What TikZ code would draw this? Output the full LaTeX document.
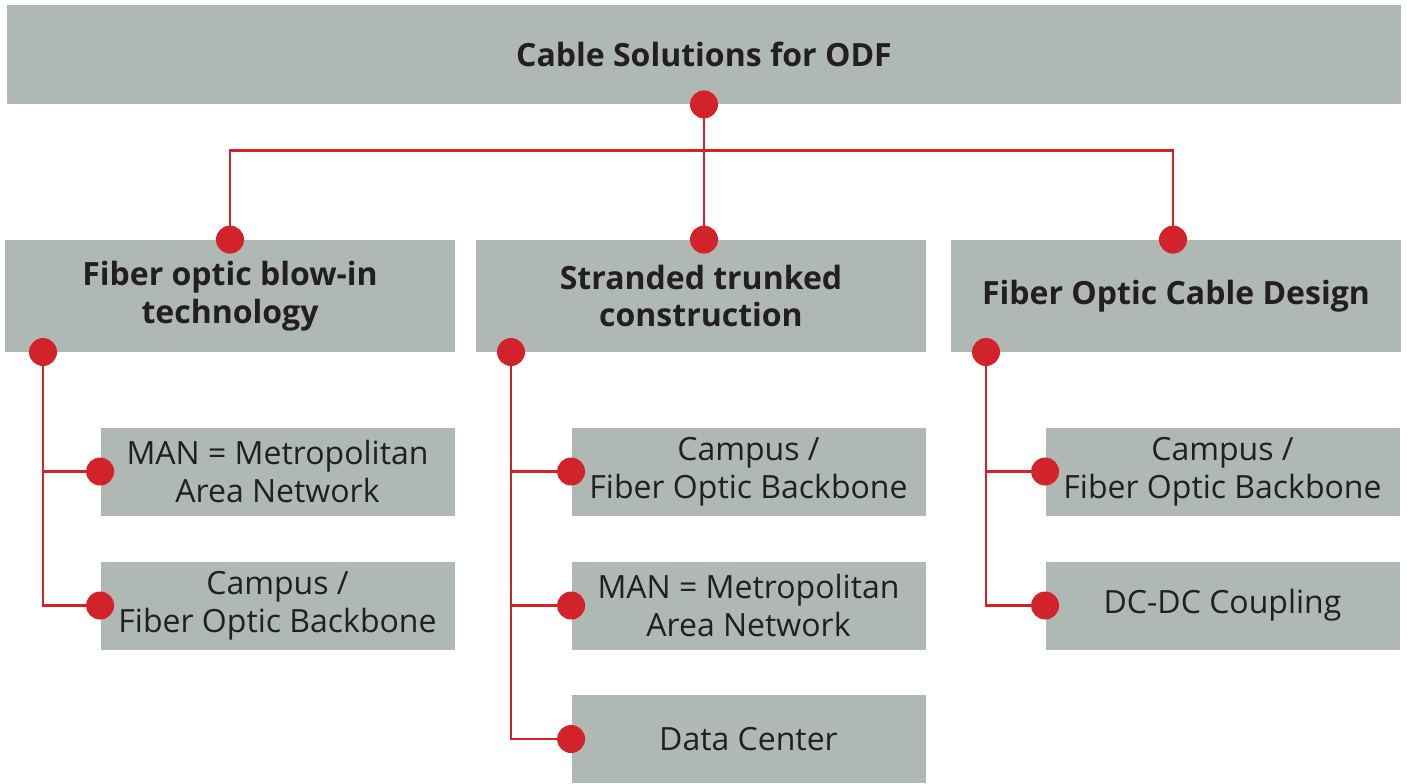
\documentclass[tikz,border=0pt]{standalone}
\usepackage{fontspec}
\setmainfont{Open Sans}
\definecolor{boxgray}{HTML}{AFB8B3}
\definecolor{odfred}{HTML}{D2232A}
\definecolor{ink}{HTML}{231F20}

\begin{document}
\begin{tikzpicture}[x=0.5pt, y=-0.5pt,
	box/.style={fill=boxgray, text=ink, inner sep=0pt, align=center,
		font=\fontsize{16}{18.75}\selectfont},
	head/.style={box, font=\fontsize{16}{18.75}\selectfont\bfseries},
	mid/.style={head, minimum width=225pt, minimum height=56pt},
	leaf/.style={box, minimum width=177pt, minimum height=44pt},
	link/.style={draw=odfred, line width=1.25pt}]

	\useasboundingbox (0,0) rectangle (1407,783);

	\node[head, minimum width=697pt, minimum height=49.5pt] (top) at (704,54.5)
		{Cable Solutions for ODF};

	\node[mid] (b1) at (230,296) {Fiber optic blow-in\\technology};
	\node[mid] (b2) at (701,296) {Stranded trunked\\construction};
	\node[mid] (b3) at (1176,296) {Fiber Optic Cable Design};

	\node[leaf] (c11) at (277.5,471.5) {MAN = Metropolitan\\Area Network};
	\node[leaf] (c12) at (277.5,605.5) {Campus /\\Fiber Optic Backbone};

	\node[leaf] (c21) at (748.5,471.5) {Campus /\\Fiber Optic Backbone};
	\node[leaf] (c22) at (748.5,605.5) {MAN = Metropolitan\\Area Network};
	\node[leaf] (c23) at (748.5,739) {Data Center};

	\node[leaf] (c31) at (1222.5,471.5) {Campus /\\Fiber Optic Backbone};
	\node[leaf] (c32) at (1222.5,605.5) {DC-DC Coupling};

	\coordinate (d1) at (b1.north);
	\coordinate (d2) at (top.south |- b2.north);
	\coordinate (d3) at ([xshift=-1.5pt]b3.north);
	\coordinate (t1) at (43,352);
	\coordinate (t2) at (511,352);
	\coordinate (t3) at (986,352);

	\draw[link] (top.south) -- ++(0,46) -| (d1);
	\draw[link] (top.south) -- (d2);
	\draw[link] (top.south) -- ++(0,46) -| (d3);

	\draw[link] (t1) |- (c11.west);
	\draw[link] (t1) |- (c12.west);
	\draw[link] (t2) |- (c21.west);
	\draw[link] (t2) |- (c22.west);
	\draw[link] (t2) |- (c23.west);
	\draw[link] (t3) |- (c31.west);
	\draw[link] (t3) |- (c32.west);

	\foreach \p in {top.south, d1, d2, d3, t1, t2, t3, c11.west, c12.west,
		c21.west, c22.west, c23.west, c31.west, c32.west}
		\fill[odfred] (\p) circle (7pt);

\end{tikzpicture}
\end{document}
